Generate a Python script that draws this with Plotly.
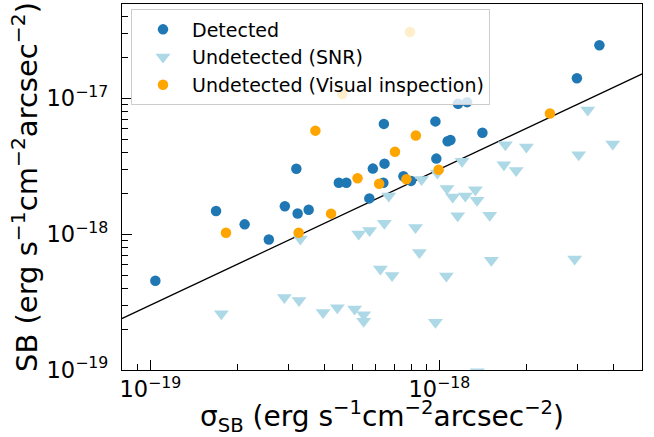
import plotly.graph_objects as go

# Detected
det_x = [1.041e-19, 1.688e-19, 2.120e-19, 2.570e-19, 2.92e-19, 3.233e-19, 3.53e-19, 3.20e-19,
         5.725e-19, 4.489e-19, 4.767e-19, 5.887e-19, 6.427e-19, 6.46e-19, 6.40e-19, 7.51e-19,
         7.98e-19, 9.76e-19, 9.69e-19, 1.068e-18, 1.092e-18, 1.160e-18, 1.247e-18, 1.409e-18,
         2.991e-18, 3.578e-18]
det_y = [4.54e-19, 1.479e-18, 1.179e-18, 9.13e-19, 1.601e-18, 1.418e-18, 1.510e-18, 3.022e-18,
         1.831e-18, 2.388e-18, 2.388e-18, 3.033e-18, 6.47e-18, 3.298e-18, 2.388e-18, 2.665e-18,
         2.462e-18, 3.593e-18, 6.75e-18, 4.82e-18, 4.92e-18, 9.09e-18, 9.35e-18, 5.56e-18,
         1.400e-17, 2.449e-17]

# Undetected (SNR)
snr_x = [1.761e-19, 2.909e-19, 3.27e-19, 3.304e-19, 3.96e-19, 4.436e-19, 5.09e-19, 5.47e-19,
         5.47e-19, 5.26e-19, 5.735e-19, 6.45e-19, 6.25e-19, 6.86e-19, 8.27e-19, 8.53e-19,
         6.68e-19, 8.68e-19, 9.69e-19, 1.062e-18, 1.112e-18, 1.230e-18, 1.332e-18, 1.350e-18,
         1.157e-18, 1.493e-18, 1.057e-18, 1.513e-18, 1.198e-18, 1.692e-18, 2.0e-18, 1.672e-18,
         1.843e-18, 3.034e-18, 3.979e-18, 3.260e-18, 2.938e-18, 1.353e-18, 9.84e-19]
snr_y = [2.594e-19, 3.41e-19, 3.243e-19, 9.19e-19, 2.651e-19, 2.869e-19, 2.807e-19, 2.55e-19,
         2.286e-19, 1.003e-18, 1.064e-18, 1.203e-18, 5.525e-19, 4.953e-19, 1.119e-18, 7.315e-19,
         1.907e-18, 2.52e-18, 2.248e-19, 2.167e-18, 1.875e-18, 1.907e-18, 2.120e-18, 1.771e-18,
         1.362e-18, 1.376e-18, 4.91e-19, 6.43e-19, 3.435e-18, 4.54e-18, 4.366e-18, 3.243e-18,
         2.942e-18, 3.837e-18, 4.592e-18, 8.17e-18, 6.57e-19, 9.7e-20, 2.821e-18]

# Undetected (Visual inspection)
vis_x = [1.827e-19, 3.26e-19, 4.22e-19, 3.724e-19, 4.616e-19, 5.21e-19, 6.19e-19, 7.02e-19,
         8.29e-19, 7.69e-19, 9.94e-19, 7.91e-19, 2.412e-18]
vis_y = [1.022e-18, 1.022e-18, 1.414e-18, 5.77e-18, 1.075e-17, 2.576e-18, 2.349e-18, 4.04e-18,
         5.31e-18, 2.533e-18, 2.972e-18, 3.073e-17, 7.72e-18]

# Reference line SB = 3 * sigma
line_factor = 3.0
line_x = [5e-20, 1e-17]
line_y = [line_factor * v for v in line_x]

FONT = "DejaVu Sans"

fig = go.Figure()
fig.add_trace(go.Scatter(x=line_x, y=line_y, mode="lines",
                         line=dict(color="black", width=1.3), showlegend=False,
                         hoverinfo="skip"))
fig.add_trace(go.Scatter(x=det_x, y=det_y, mode="markers", name="Detected",
                         marker=dict(color="#1f77b4", size=10.5, symbol="circle")))
fig.add_trace(go.Scatter(x=snr_x, y=snr_y, mode="markers", name="Undetected (SNR)",
                         marker=dict(color="#add8e6", size=13, symbol="triangle-down")))
fig.add_trace(go.Scatter(x=vis_x, y=vis_y, mode="markers", name="Undetected (Visual inspection)",
                         marker=dict(color="#ffa500", size=10.5, symbol="circle")))

axis_common = dict(
    type="log", dtick=1, exponentformat="power",
    ticks="inside", ticklen=10, tickwidth=1, tickcolor="black",
    minor=dict(ticks="inside", ticklen=6, tickwidth=1, tickcolor="black", dtick="D1", showgrid=False),
    showgrid=False, zeroline=False,
    showline=True, linecolor="black", linewidth=1, mirror=True,
    tickfont=dict(family=FONT, size=18, color="black"),
)

fig.update_layout(
    width=654, height=437,
    margin=dict(l=122, r=12, t=3, b=65),
    paper_bgcolor="white", plot_bgcolor="white",
    font=dict(family=FONT, color="black"),
    xaxis=dict(axis_common, range=[-19.098, -17.299],
               title=dict(text="σ<sub>SB</sub> (erg s<sup>−1</sup>cm<sup>−2</sup>arcsec<sup>−2</sup>)",
                          font=dict(family=FONT, size=28, color="black"), standoff=12)),
    yaxis=dict(axis_common, range=[-19, -16.307], ticklabelstandoff=9,
               title=dict(text="SB (erg s<sup>−1</sup>cm<sup>−2</sup>arcsec<sup>−2</sup>)",
                          font=dict(family=FONT, size=29, color="black"), standoff=0)),
    legend=dict(x=0.0173, y=0.985, xanchor="left", yanchor="top",
                bgcolor="rgba(255,255,255,0.8)", bordercolor="#cccccc", borderwidth=1,
                font=dict(family=FONT, size=19, color="black"), itemwidth=48,
                indentation=2, tracegroupgap=0),
)

fig.write_html("out.html")
